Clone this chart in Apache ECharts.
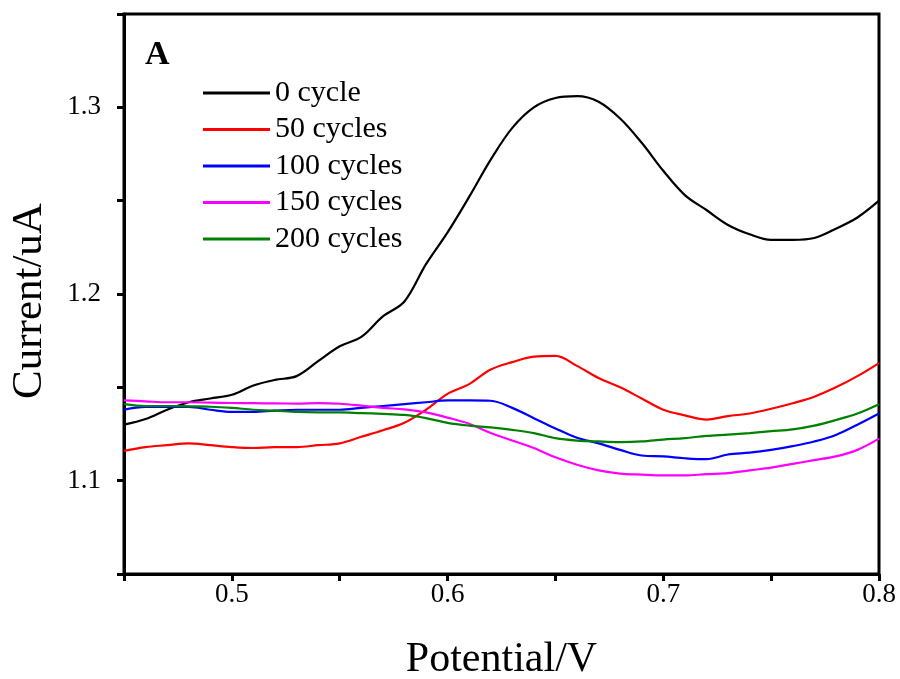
<!DOCTYPE html>
<html>
<head>
<meta charset="utf-8">
<script src="https://cdn.jsdelivr.net/npm/echarts@6/dist/echarts.min.js"></script>
<style>html,body{margin:0;padding:0;background:#fff}#c{width:900px;height:679px}</style>
</head>
<body>
<div id="c"></div>
<script>
const potential = [0.45,0.46,0.47,0.48,0.49,0.50,0.51,0.52,0.53,0.54,0.55,0.56,0.57,0.58,0.59,0.60,0.61,0.62,0.63,0.64,0.65,0.66,0.67,0.68,0.69,0.70,0.71,0.72,0.73,0.74,0.75,0.76,0.77,0.78,0.79,0.80];
const cycle0 = [1.130,1.133,1.138,1.142,1.144,1.146,1.151,1.154,1.156,1.164,1.172,1.177,1.188,1.196,1.216,1.233,1.252,1.272,1.289,1.300,1.305,1.306,1.303,1.294,1.281,1.266,1.253,1.245,1.237,1.232,1.229,1.229,1.230,1.235,1.241,1.250];
const cycle50 = [1.116,1.118,1.119,1.120,1.119,1.118,1.1175,1.118,1.118,1.119,1.120,1.1235,1.127,1.131,1.138,1.1465,1.1517,1.1595,1.1635,1.1665,1.1668,1.1615,1.155,1.150,1.144,1.138,1.135,1.1327,1.1346,1.136,1.1385,1.1415,1.145,1.150,1.156,1.163];
const cycle100 = [1.138,1.1395,1.1395,1.1395,1.138,1.1368,1.1368,1.1375,1.138,1.138,1.138,1.139,1.140,1.141,1.142,1.143,1.143,1.1428,1.139,1.1335,1.128,1.123,1.120,1.1165,1.1135,1.113,1.112,1.1115,1.114,1.115,1.1165,1.1185,1.121,1.1245,1.130,1.136];
const cycle150 = [1.143,1.1425,1.142,1.142,1.1418,1.1416,1.1415,1.1414,1.1413,1.1415,1.1412,1.1402,1.139,1.1382,1.1366,1.1338,1.1305,1.1255,1.1215,1.1175,1.1125,1.1085,1.1055,1.1038,1.1032,1.1028,1.1028,1.1035,1.104,1.1055,1.107,1.109,1.111,1.113,1.1165,1.1225];
const cycle200 = [1.141,1.140,1.140,1.1398,1.1396,1.139,1.138,1.1375,1.1368,1.1366,1.1366,1.1362,1.1358,1.1352,1.1335,1.131,1.1295,1.1285,1.1272,1.1255,1.1228,1.1215,1.121,1.1207,1.121,1.122,1.1228,1.124,1.1247,1.1255,1.1265,1.1275,1.1295,1.1325,1.136,1.141];
const seriesNames = ['0 cycle','50 cycles','100 cycles','150 cycles','200 cycles'];
const seriesColors = ['#000000','#ff0000','#0000ff','#ff00ff','#008000'];
const xTickLabels = [0.5,0.6,0.7,0.8];
const yTickLabels = [1.1,1.2,1.3];

const allData = [cycle0, cycle50, cycle100, cycle150, cycle200];
const font = '"Liberation Serif", "Times New Roman", serif';
const chart = echarts.init(document.getElementById('c'), null, {renderer:'canvas'});

function isLabel(v, list){ return list.some(t => Math.abs(t - v) < 1e-6); }

chart.setOption({
  animation: false,
  backgroundColor: '#fff',
  title: {
    text: 'A', left: 140, top: 33,
    textStyle: {fontFamily: font, fontWeight: 'bold', fontSize: 34, color: '#000'}
  },
  legend: {
    orient: 'vertical', left: 198, top: 73,
    itemWidth: 67, itemHeight: 3, itemGap: 6.5,
    icon: 'rect',
    textStyle: {fontFamily: font, fontSize: 30, color: '#000', lineHeight: 30},
    data: seriesNames
  },
  grid: {left: 124, right: 21, top: 14, bottom: 105, show: true, borderColor: '#000', borderWidth: 3, containLabel: false, outerBoundsMode: 'none'},
  xAxis: {
    type: 'value', min: 0.45, max: 0.8, interval: 0.05,
    name: 'Potential/V', nameLocation: 'middle', nameGap: 65,
    nameTextStyle: {fontFamily: font, fontSize: 42, color: '#000'},
    axisLine: {show: true, lineStyle: {color: '#000', width: 3}},
    axisTick: {show: true, inside: false, length: 7, lineStyle: {color: '#000', width: 3}},
    axisLabel: {fontFamily: font, fontSize: 27, color: '#000', margin: 7,
      formatter: v => isLabel(v, xTickLabels) ? String(Math.round(v*10)/10) : ''},
    splitLine: {show: false}
  },
  yAxis: {
    type: 'value', min: 1.05, max: 1.35, interval: 0.05,
    name: 'Current/uA', nameLocation: 'middle', nameGap: 73,
    nameTextStyle: {fontFamily: font, fontSize: 43, color: '#000', padding: [0, 14, 0, 0]},
    axisLine: {show: true, lineStyle: {color: '#000', width: 3}},
    axisTick: {show: true, inside: false, length: 7, lineStyle: {color: '#000', width: 3}},
    axisLabel: {fontFamily: font, fontSize: 27, color: '#000', margin: 23,
      formatter: v => isLabel(v, yTickLabels) ? (Math.round(v*10)/10).toFixed(1) : ''},
    splitLine: {show: false}
  },
  series: seriesNames.map((n, i) => ({
    name: n, type: 'line', showSymbol: false, symbol: 'none', smooth: 0.35,
    lineStyle: {color: seriesColors[i], width: 2.2},
    itemStyle: {color: seriesColors[i]},
    data: potential.map((x, j) => [x, allData[i][j]])
  }))
});
</script>
</body>
</html>
